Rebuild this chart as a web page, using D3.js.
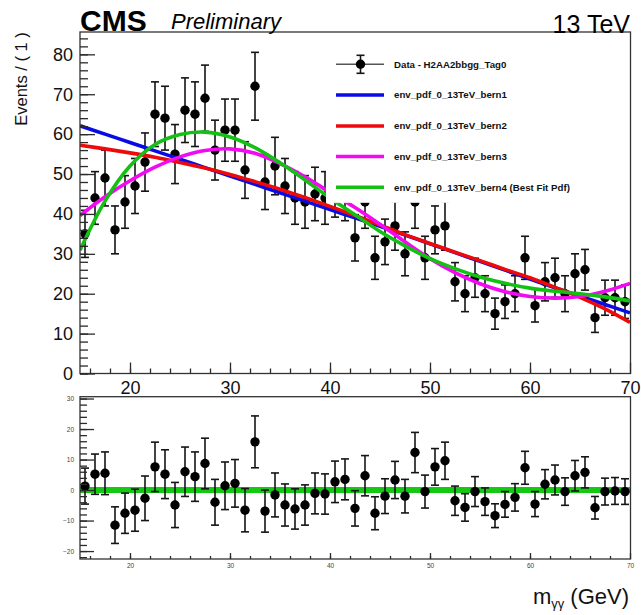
<!DOCTYPE html>
<html>
<head>
<meta charset="utf-8">
<script src="https://cdn.jsdelivr.net/npm/d3@7"></script>
<style>
  body { margin: 0; background: #fff; }
  svg { display: block; }
  text { font-family: "Liberation Sans", Arial, Helvetica, sans-serif; }
</style>
</head>
<body>
<svg id="chart" width="641" height="615"></svg>
<script>
// Diphoton invariant mass bins (GeV, bin centres, width 1)
const massBins = [15.5, 16.5, 17.5, 18.5, 19.5, 20.5, 21.5, 22.5, 23.5, 24.5,
  25.5, 26.5, 27.5, 28.5, 29.5, 30.5, 31.5, 32.5, 33.5, 34.5,
  35.5, 36.5, 37.5, 38.5, 39.5, 40.5, 41.5, 42.5, 43.5, 44.5,
  45.5, 46.5, 47.5, 48.5, 49.5, 50.5, 51.5, 52.5, 53.5, 54.5,
  55.5, 56.5, 57.5, 58.5, 59.5, 60.5, 61.5, 62.5, 63.5, 64.5,
  65.5, 66.5, 67.5, 68.5, 69.5];

// Observed events per bin
const events = [35, 44, 49, 36, 43, 47, 53, 65, 64, 55,
  66, 65, 69, 56, 61, 61, 51, 72, 48, 52,
  47, 44, 43, 45, 44, 46, 45, 34, 43, 29,
  33, 37, 30, 43, 29, 36, 37, 23, 20, 24,
  20, 15, 18, 20, 29, 17, 23, 24, 20, 25,
  26, 14, 19, 19, 18];

// Statistical uncertainty per bin
const eventErr = [5.9, 6.6, 7.0, 6.0, 6.6, 6.9, 7.3, 8.1, 8.0, 7.4,
  8.1, 8.1, 8.3, 7.5, 7.8, 7.8, 7.1, 8.5, 6.9, 7.2,
  6.9, 6.6, 6.6, 6.7, 6.6, 6.8, 6.7, 5.8, 6.6, 5.4,
  5.7, 6.1, 5.5, 6.6, 5.4, 6.0, 6.1, 4.8, 4.5, 4.9,
  4.5, 3.9, 4.2, 4.5, 5.4, 4.1, 4.8, 4.9, 4.5, 5.0,
  5.1, 3.7, 4.4, 4.4, 4.2];

// Data minus best-fit pdf (bern4)
const residuals = [1.3, 5.2, 5.5, -11.5, -7.6, -6.6, -2.7, 7.6, 5.2, -4.9,
  6.0, 4.4, 8.7, -4.0, 1.4, 2.2, -6.6, 15.8, -6.9, -1.6,
  -4.9, -6.2, -4.9, -1.1, -1.3, 2.7, 3.5, -6.0, 4.7, -7.6,
  -2.0, 3.3, -2.0, 12.3, -0.5, 7.6, 9.6, -3.5, -5.7, -0.5,
  -3.8, -8.4, -4.7, -2.4, 7.3, -4.6, 1.9, 3.3, -0.5, 4.7,
  5.8, -5.8, -0.5, -0.3, -0.5];

// Background pdf shapes sampled along the mass axis
const curveMass = [15, 17.5, 20, 22.5, 25, 27.5, 30, 32.5, 35, 37.5, 40, 42.5,
  45, 47.5, 50, 52.5, 55, 57.5, 60, 62.5, 65, 67.5, 70];
const bern1 = [62.1, 60.0, 57.9, 55.8, 53.7, 51.6, 49.5, 47.4, 45.3, 43.2, 41.1, 39.0,
  36.9, 34.7, 32.5, 30.3, 28.1, 25.9, 23.7, 21.5, 19.4, 17.3, 15.2];
const bern2 = [57.2, 56.3, 55.3, 54.2, 52.9, 51.5, 49.9, 48.1, 46.2, 44.1, 41.9, 39.6,
  37.2, 34.8, 32.6, 30.4, 28.3, 26.1, 24.0, 21.6, 19.1, 16.2, 12.8];
const bern3 = [39.6, 44.3, 48.3, 51.7, 54.3, 55.9, 56.3, 55.2, 52.6, 49.3, 45.4, 41.6,
  37.4, 33.0, 28.8, 25.3, 22.5, 20.5, 19.3, 18.9, 19.3, 20.6, 22.6];
const bern4 = [30.9, 43.2, 52.0, 57.4, 59.9, 60.5, 59.3, 56.6, 52.8, 48.5, 44.0, 39.8,
  35.6, 32.0, 28.8, 26.3, 24.2, 22.6, 21.4, 20.6, 20.0, 19.2, 18.2];

const curveNames = ["env_pdf_0_13TeV_bern1", "env_pdf_0_13TeV_bern2",
  "env_pdf_0_13TeV_bern3", "env_pdf_0_13TeV_bern4 (Best Fit Pdf)"];
const curveColors = ["#0a0ae6", "#ee0a0a", "#f20af2", "#14c014"];
const dataLabel = "Data - H2AA2bbgg_Tag0";

const xTickValues = [20, 30, 40, 50, 60, 70];
const yTickMain = [0, 10, 20, 30, 40, 50, 60, 70, 80];
const yTickRes = [-20, -10, 0, 10, 20, 30];

// ---- layout ----
const svg = d3.select("#chart");
const L = 80, R = 630.5;
const mainTop = 32, mainBottom = 373.5;
const resTop = 396.7, resBottom = 559;

const x = d3.scaleLinear().domain([15, 70]).range([80, 630]);
const yMain = d3.scaleLinear().domain([0, 85.6]).range([mainBottom, mainTop]);
const yRes = d3.scaleLinear().domain([-22.6, 30.6]).range([resBottom, resTop]);

const axisColor = "#2a2a2a";

function styleAxis(g, fontSize, labelColor) {
  g.select(".domain").remove();
  g.selectAll(".tick line").attr("stroke", axisColor).attr("stroke-width", 1.3);
  g.selectAll(".tick text").attr("fill", labelColor || "#111").style("font-size", fontSize + "px");
}

// ---- upper panel ----
svg.append("defs").append("clipPath").attr("id", "mainClip")
  .append("rect").attr("x", L).attr("y", mainTop).attr("width", R - L).attr("height", mainBottom - mainTop);

const curves = [bern1, bern2, bern3, bern4];
const lineGen = d3.line()
  .x((d, i) => x(curveMass[i]))
  .y(d => yMain(d))
  .curve(d3.curveCatmullRom.alpha(0.5));

// data points with error bars
const dataG = svg.append("g");
function drawPoints(g, values, yScale) {
  const pts = g.selectAll("g.pt").data(massBins).join("g").attr("class", "pt");
  pts.append("line")
    .attr("x1", d => x(d)).attr("x2", d => x(d))
    .attr("y1", (d, i) => yScale(values[i] + eventErr[i]))
    .attr("y2", (d, i) => yScale(values[i] - eventErr[i]))
    .attr("stroke", "#151515").attr("stroke-width", 1.6);
  [1, -1].forEach(s => {
    pts.append("line")
      .attr("x1", d => x(d) - 4).attr("x2", d => x(d) + 4)
      .attr("y1", (d, i) => yScale(values[i] + s * eventErr[i]))
      .attr("y2", (d, i) => yScale(values[i] + s * eventErr[i]))
      .attr("stroke", "#151515").attr("stroke-width", 1.6);
  });
  pts.append("circle")
    .attr("cx", d => x(d)).attr("cy", (d, i) => yScale(values[i]))
    .attr("r", 4.7).attr("fill", "#000");
}
drawPoints(dataG, events, yMain);

const curveG = svg.append("g").attr("clip-path", "url(#mainClip)");
curves.forEach((c, k) => {
  curveG.append("path").datum(c)
    .attr("d", lineGen)
    .attr("fill", "none")
    .attr("stroke", curveColors[k])
    .attr("stroke-width", 3.6)
    .attr("stroke-linejoin", "round");
});

// legend
const legG = svg.append("g");
legG.append("rect").attr("x", 326).attr("y", mainTop + 0.8).attr("width", R - 326 - 0.8).attr("height", 202 - mainTop)
  .attr("fill", "#fff");
const legY = [64.3, 95, 126, 156.5, 187.3];
legG.append("line").attr("x1", 336).attr("x2", 384).attr("y1", legY[0]).attr("y2", legY[0])
  .attr("stroke", "#555").attr("stroke-width", 1.6);
legG.append("line").attr("x1", 360.5).attr("x2", 360.5).attr("y1", legY[0] - 9).attr("y2", legY[0] + 9)
  .attr("stroke", "#151515").attr("stroke-width", 1.6);
[-9, 9].forEach(o => legG.append("line").attr("x1", 356.5).attr("x2", 364.5)
  .attr("y1", legY[0] + o).attr("y2", legY[0] + o).attr("stroke", "#151515").attr("stroke-width", 1.6));
legG.append("circle").attr("cx", 360.5).attr("cy", legY[0]).attr("r", 4.7).attr("fill", "#000");
const legendLabels = [dataLabel].concat(curveNames);
legendLabels.forEach((lab, i) => {
  if (i > 0) {
    legG.append("line").attr("x1", 336).attr("x2", 384).attr("y1", legY[i]).attr("y2", legY[i])
      .attr("stroke", curveColors[i - 1]).attr("stroke-width", 3.6);
  }
  legG.append("text").attr("x", 394).attr("y", legY[i]).attr("dy", "0.35em")
    .style("font-size", "9.7px").style("font-weight", "bold").attr("fill", "#111").text(lab);
});

// frame of the upper panel
svg.append("rect").attr("x", L).attr("y", mainTop).attr("width", R - L).attr("height", mainBottom - mainTop)
  .attr("fill", "none").attr("stroke", "#333").attr("stroke-width", 1.3);

// upper axes
svg.append("g").attr("transform", `translate(${L},0)`)
  .call(d3.axisLeft(yMain).tickValues(yTickMain).tickSize(-15).tickPadding(7).tickFormat(d3.format("d")))
  .call(g => styleAxis(g, 18));
svg.append("g").attr("transform", `translate(${L},0)`)
  .call(d3.axisLeft(yMain).tickValues(d3.range(0, 86, 2)).tickSize(-8).tickFormat(""))
  .call(g => styleAxis(g, 18));
svg.append("g").attr("transform", `translate(0,${mainBottom})`)
  .call(d3.axisBottom(x).tickValues(xTickValues).tickSize(-11).tickPadding(8).tickFormat(d3.format("d")))
  .call(g => styleAxis(g, 18));
svg.append("g").attr("transform", `translate(0,${mainBottom})`)
  .call(d3.axisBottom(x).tickValues(d3.range(16, 70, 2)).tickSize(-5).tickFormat(""))
  .call(g => styleAxis(g, 18));

// ---- residual panel ----
svg.append("line").attr("x1", L).attr("x2", R).attr("y1", yRes(0)).attr("y2", yRes(0))
  .attr("stroke", "#14c814").attr("stroke-width", 6);
drawPoints(svg.append("g"), residuals, yRes);

svg.append("rect").attr("x", L).attr("y", resTop).attr("width", R - L).attr("height", resBottom - resTop)
  .attr("fill", "none").attr("stroke", "#333").attr("stroke-width", 1.3);

svg.append("g").attr("transform", `translate(${L},0)`)
  .call(d3.axisLeft(yRes).tickValues(yTickRes).tickSize(-14).tickPadding(6).tickFormat(d3.format("d")))
  .call(g => styleAxis(g, 6.5, "#444"));
svg.append("g").attr("transform", `translate(${L},0)`)
  .call(d3.axisLeft(yRes).tickValues(d3.range(-22, 31, 2)).tickSize(-7).tickFormat(""))
  .call(g => styleAxis(g, 6.5));
svg.append("g").attr("transform", `translate(0,${resBottom})`)
  .call(d3.axisBottom(x).tickValues(xTickValues).tickSize(-6).tickPadding(4).tickFormat(d3.format("d")))
  .call(g => styleAxis(g, 6.5, "#444"));
svg.append("g").attr("transform", `translate(0,${resBottom})`)
  .call(d3.axisBottom(x).tickValues(d3.range(16, 70, 2)).tickSize(-3).tickFormat(""))
  .call(g => styleAxis(g, 6.5));

// ---- titles ----
svg.append("text").attr("x", 80).attr("y", 31).style("font-size", "30px").style("font-weight", "bold")
  .attr("fill", "#000").text("CMS");
svg.append("text").attr("x", 171).attr("y", 29).style("font-size", "22px").style("font-style", "italic")
  .attr("fill", "#000").text("Preliminary");
svg.append("text").attr("x", 630).attr("y", 33).attr("text-anchor", "end").style("font-size", "25px")
  .attr("fill", "#000").text("13 TeV");
svg.append("text").attr("transform", "translate(27,79) rotate(-90)").attr("text-anchor", "middle")
  .style("font-size", "16.5px").attr("fill", "#111").text("Events / ( 1 )");

const xt = svg.append("text").attr("x", 629).attr("y", 604).attr("text-anchor", "end")
  .style("font-size", "22px").attr("fill", "#111");
xt.append("tspan").text("m");
xt.append("tspan").attr("dy", 4).style("font-size", "13px").text("γγ");
xt.append("tspan").attr("dy", -4).text(" (GeV)");
</script>
</body>
</html>
